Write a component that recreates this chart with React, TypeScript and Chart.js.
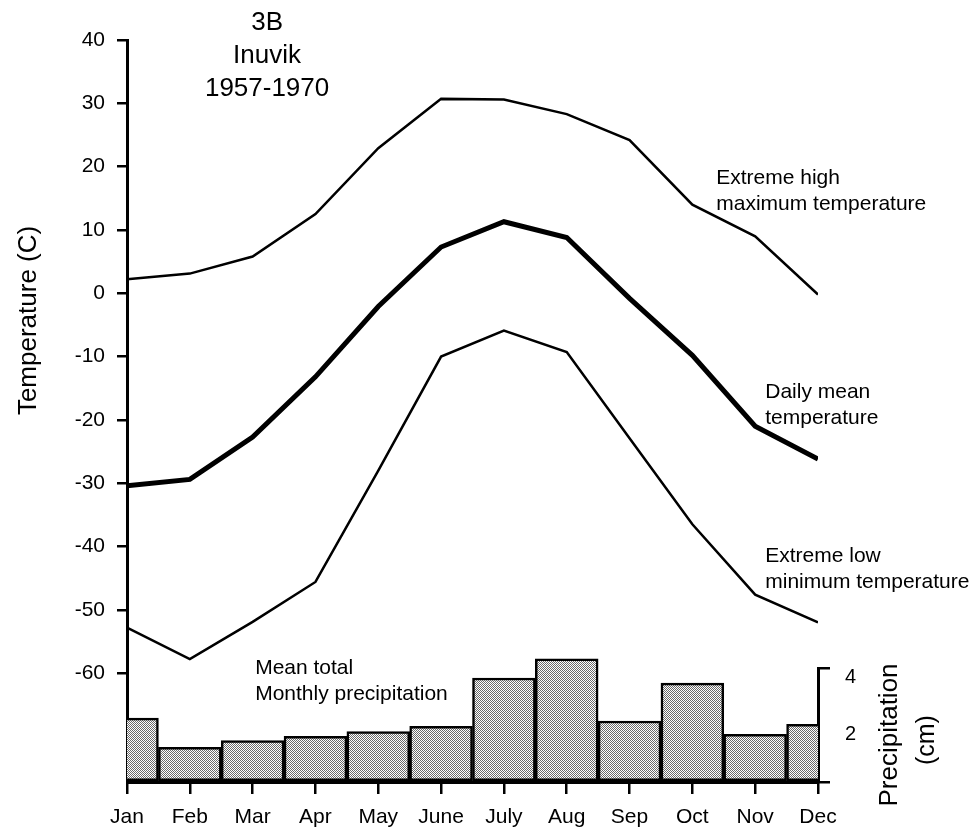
import React, { useEffect, useRef } from "react";
import { Chart, registerables } from "chart.js";

Chart.register(...registerables);

// ---- data ----
const months = ["Jan", "Feb", "Mar", "Apr", "May", "June", "July", "Aug", "Sep", "Oct", "Nov", "Dec"];
const extremeHigh = [2.2, 3.1, 5.8, 12.5, 22.9, 30.7, 30.6, 28.3, 24.2, 14.0, 9.0, -0.2];
const dailyMean = [-30.4, -29.4, -22.7, -13.2, -2.1, 7.3, 11.3, 8.8, -0.8, -9.8, -21.0, -26.2];
const extremeLow = [-52.8, -57.8, -51.9, -45.6, -28.0, -10.0, -5.9, -9.3, -22.9, -36.5, -47.6, -52.0];
const precipitation = [2.24, 1.22, 1.45, 1.6, 1.77, 1.95, 3.65, 4.32, 2.14, 3.47, 1.67, 2.02];

const tempTicks = [-60, -50, -40, -30, -20, -10, 0, 10, 20, 30, 40];
const precipTicks = [0, 1, 2, 3, 4];
const precipLabeled = [2, 4];
const precipUnmarked = [2];

const titleLines = ["3B", "Inuvik", "1957-1970"];
const seriesNotes = [
  { lines: ["Extreme high", "maximum temperature"], at: 9.38, temp: 18.2 },
  { lines: ["Daily mean", "temperature"], at: 10.16, temp: -15.6 },
  { lines: ["Extreme low", "minimum temperature"], at: 10.16, temp: -41.5 },
  { lines: ["Mean total", "Monthly precipitation"], at: 2.04, temp: -59.2 },
];

const FONT = "'Liberation Sans', Arial, Helvetica, sans-serif";

const clipPlugin = {
  id: "clipToArea",
  beforeDatasetDraw(chart: any) {
    const a = chart.chartArea;
    const ctx = chart.ctx;
    ctx.save();
    ctx.beginPath();
    ctx.rect(a.left, a.top - 2, a.right - a.left, a.bottom - a.top + 2);
    ctx.clip();
  },
  afterDatasetDraw(chart: any) {
    chart.ctx.restore();
  },
};

const textPlugin = {
  id: "chartTexts",
  afterDraw(chart: any) {
    const { ctx, scales, chartArea } = chart;
    const x = scales.x;
    const y = scales.y;
    const y2 = scales.y2;
    ctx.save();
    ctx.fillStyle = "#000";
    ctx.textBaseline = "middle";

    // title block
    ctx.font = `26px ${FONT}`;
    ctx.textAlign = "center";
    const tx = x.getPixelForValue(2.23);
    const ty = y.getPixelForValue(42.7);
    titleLines.forEach((t, i) => ctx.fillText(t, tx, ty + i * 33));

    // series notes
    ctx.font = `21px ${FONT}`;
    ctx.textAlign = "left";
    seriesNotes.forEach((n) => {
      const nx = x.getPixelForValue(n.at);
      const ny = y.getPixelForValue(n.temp);
      n.lines.forEach((l, i) => ctx.fillText(l, nx, ny + i * 26));
    });

    // left axis title
    ctx.save();
    ctx.font = `26px ${FONT}`;
    ctx.textAlign = "center";
    ctx.translate(chartArea.left - 98, y.getPixelForValue(-4.3));
    ctx.rotate(-Math.PI / 2);
    ctx.fillText("Temperature (C)", 0, 0);
    ctx.restore();

    // right axis title
    ctx.save();
    ctx.font = `26px ${FONT}`;
    ctx.textAlign = "center";
    ctx.translate(chartArea.right + 72, y2.getPixelForValue(1.65));
    ctx.rotate(-Math.PI / 2);
    ctx.fillText("Precipitation", 0, 0);
    ctx.restore();
    ctx.save();
    ctx.font = `25px ${FONT}`;
    ctx.textAlign = "center";
    ctx.translate(chartArea.right + 109, y2.getPixelForValue(1.47));
    ctx.rotate(-Math.PI / 2);
    ctx.fillText("(cm)", 0, 0);
    ctx.restore();

    ctx.restore();
  },
};

export default function App() {
  const ref = useRef<HTMLCanvasElement>(null);

  useEffect(() => {
    const canvas = ref.current;
    if (!canvas) return;
    Chart.defaults.font.family = FONT;
    Chart.defaults.color = "#000";

    const tile = document.createElement("canvas");
    tile.width = 2;
    tile.height = 2;
    const tctx = tile.getContext("2d")!;
    tctx.fillStyle = "#ffffff";
    tctx.fillRect(0, 0, 2, 2);
    tctx.fillStyle = "#6a6a6a";
    tctx.fillRect(0, 0, 1, 1);
    tctx.fillRect(1, 1, 1, 1);
    const pattern = canvas.getContext("2d")!.createPattern(tile, "repeat");

    const chart = new Chart(canvas, {
      type: "line",
      data: {
        labels: months,
        datasets: [
          {
            type: "line",
            label: "Extreme high maximum temperature",
            data: extremeHigh,
            yAxisID: "y",
            borderColor: "#000",
            borderWidth: 2.5,
            pointRadius: 0,
            tension: 0,
            fill: false,
          },
          {
            type: "line",
            label: "Daily mean temperature",
            data: dailyMean,
            yAxisID: "y",
            borderColor: "#000",
            borderWidth: 5,
            pointRadius: 0,
            tension: 0,
            fill: false,
          },
          {
            type: "line",
            label: "Extreme low minimum temperature",
            data: extremeLow,
            yAxisID: "y",
            borderColor: "#000",
            borderWidth: 2.5,
            pointRadius: 0,
            tension: 0,
            fill: false,
          },
          {
            type: "bar",
            label: "Mean total monthly precipitation",
            data: precipitation,
            yAxisID: "y2",
            backgroundColor: pattern as any,
            borderColor: "#000",
            borderWidth: 2.5,
            borderSkipped: false,
            barPercentage: 1,
            categoryPercentage: 1,
            clip: false,
          } as any,
        ],
      },
      options: {
        responsive: false,
        animation: false,
        events: [],
        layout: { padding: { top: 32, left: 0, right: 0, bottom: 0 } },
        plugins: {
          legend: { display: false },
          tooltip: { enabled: false },
          title: { display: false },
        },
        scales: {
          x: {
            type: "category",
            offset: false,
            grid: {
              offset: false,
              drawOnChartArea: false,
              drawTicks: true,
              tickLength: 12,
              lineWidth: 2.5,
              color: "#000",
            },
            border: { display: true, width: 3, color: "#000" },
            ticks: {
              font: { size: 21 },
              padding: 11,
              maxRotation: 0,
              autoSkip: false,
              color: "#000",
            },
            afterFit(s: any) {
              s.height = 51;
            },
          },
          y: {
            type: "linear",
            position: "left",
            min: -77.2,
            max: 40,
            afterBuildTicks(s: any) {
              s.ticks = tempTicks.map((v) => ({ value: v }));
            },
            grid: {
              drawOnChartArea: false,
              drawTicks: true,
              tickLength: 10,
              lineWidth: 2.5,
              color: "#000",
            },
            border: { display: true, width: 3, color: "#000" },
            ticks: { font: { size: 21 }, padding: 12, color: "#000" },
            afterFit(s: any) {
              s.width = 119;
            },
          },
          yTop: {
            type: "linear",
            position: "right",
            stack: "right",
            stackWeight: 628,
            display: true,
            grid: { display: false },
            border: { display: false },
            ticks: { display: false },
            afterFit(s: any) {
              s.width = 153;
            },
          },
          y2: {
            type: "linear",
            position: "right",
            stack: "right",
            stackWeight: 114,
            min: 0,
            max: 4,
            afterBuildTicks(s: any) {
              s.ticks = precipTicks.map((v) => ({ value: v }));
            },
            grid: {
              drawOnChartArea: false,
              drawTicks: true,
              tickLength: 12,
              lineWidth: 2.5,
              color: "#000",
              tickColor: (c: any) =>
                c.tick && precipUnmarked.includes(c.tick.value) ? "rgba(0,0,0,0)" : "#000",
            },
            border: { display: true, width: 3, color: "#000" },
            ticks: {
              font: { size: 20 },
              padding: 15,
              labelOffset: 9,
              color: "#000",
              callback: (v: any) => (precipLabeled.includes(Number(v)) ? String(v) : ""),
            },
            afterFit(s: any) {
              s.width = 153;
            },
          },
        } as any,
      },
      plugins: [clipPlugin, textPlugin],
    });

    return () => chart.destroy();
  }, []);

  return (
    <div style={{ width: 963, height: 825 }}>
      <canvas ref={ref} width={963} height={825} style={{ display: "block" }} />
    </div>
  );
}
